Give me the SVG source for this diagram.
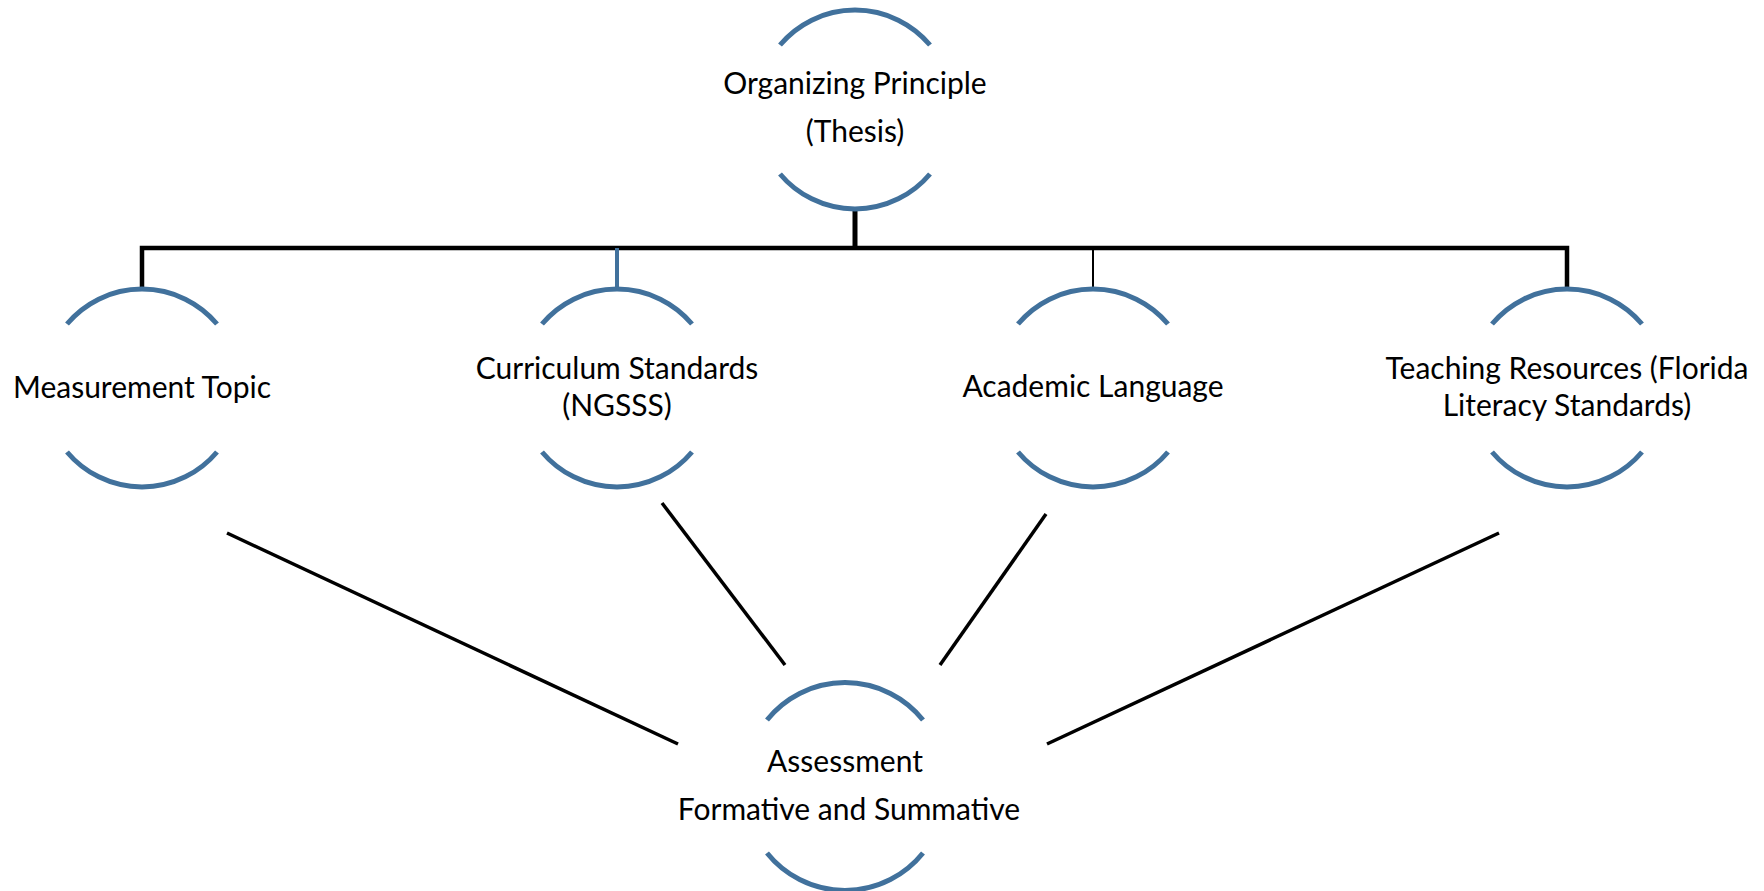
<svg xmlns="http://www.w3.org/2000/svg" width="1764" height="891" viewBox="0 0 1764 891">
<style>
.arc{fill:none;stroke:#41719C;stroke-width:5}
.t{font-family:Lato,"Liberation Sans",sans-serif;font-size:30px;fill:#000;text-anchor:middle}
.k{stroke:#000;fill:none}
</style>
<rect width="1764" height="891" fill="#fff"/>
<g id="connectors">
<polyline class="k" stroke-width="4.5" points="142,289 142,248 1567,248 1567,289"/>
<line class="k" stroke-width="5" x1="855" y1="208" x2="855" y2="248"/>
<line stroke="#41719C" stroke-width="4" x1="617" y1="248" x2="617" y2="289"/>
<line class="k" stroke-width="2" x1="1093" y1="248" x2="1093" y2="289"/>
<line class="k" stroke-width="3.5" x1="227" y1="533" x2="678" y2="744"/>
<line class="k" stroke-width="3.5" x1="662" y1="503" x2="785" y2="665"/>
<line class="k" stroke-width="3.5" x1="1046" y1="514" x2="940" y2="665"/>
<line class="k" stroke-width="3.5" x1="1499" y1="533" x2="1047" y2="744"/>
</g>
<g id="organizing">
<path class="arc" d="M780,45 A98,98 0 0 1 930,45"/>
<path class="arc" d="M780,174 A98,98 0 0 0 930,174"/>
<text class="t" x="855" y="94">Organizing Principle</text>
<text class="t" x="855" y="142">(Thesis)</text>
</g>
<g id="measurement">
<path class="arc" d="M67,324 A98,98 0 0 1 217,324"/>
<path class="arc" d="M67,452 A98,98 0 0 0 217,452"/>
<text class="t" x="142" y="398">Measurement Topic</text>
</g>
<g id="curriculum">
<path class="arc" d="M542,324 A98,98 0 0 1 692,324"/>
<path class="arc" d="M542,452 A98,98 0 0 0 692,452"/>
<text class="t" x="617" y="379">Curriculum Standards</text>
<text class="t" x="617" y="416">(NGSSS)</text>
</g>
<g id="academic">
<path class="arc" d="M1018,324 A98,98 0 0 1 1168,324"/>
<path class="arc" d="M1018,452 A98,98 0 0 0 1168,452"/>
<text class="t" x="1093" y="397">Academic Language</text>
</g>
<g id="teaching">
<path class="arc" d="M1492,324 A98,98 0 0 1 1642,324"/>
<path class="arc" d="M1492,452 A98,98 0 0 0 1642,452"/>
<text class="t" x="1567" y="379">Teaching Resources (Florida</text>
<text class="t" x="1567" y="416">Literacy Standards)</text>
</g>
<g id="assessment">
<path class="arc" d="M767,720 A100,100 0 0 1 923,720"/>
<path class="arc" d="M767,853 A100,100 0 0 0 923,853"/>
<text class="t" x="845" y="772">Assessment</text>
<text class="t" x="849" y="820">Formative and Summative</text>
</g>
</svg>
